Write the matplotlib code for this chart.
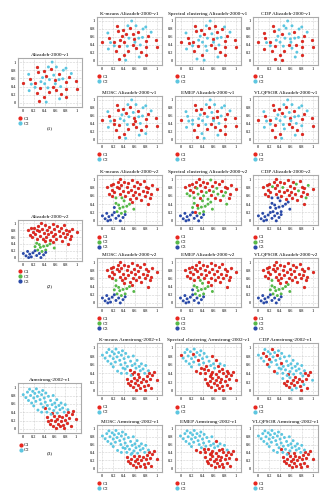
import matplotlib
matplotlib.use("Agg")
import matplotlib.pyplot as plt
from matplotlib.lines import Line2D

plt.rcParams['font.family'] = ['Liberation Serif', 'DejaVu Serif']

# ---- dataset 1: Alizadeh-2000-v1 (1 = C1 red, 2 = C2 cyan)
ds1_x = [0.00, 0.10, 0.11, 0.15, 0.22, 0.25, 0.26, 0.28, 0.31, 0.22, 0.36, 0.38, 0.39, 0.43, 0.40, 0.43,
         0.46, 0.48, 0.49, 0.51, 0.54, 0.56, 0.57, 0.59, 0.60, 0.62, 0.62, 0.66, 0.67, 0.70, 0.71, 0.74,
         0.75, 0.80, 0.80, 0.80, 0.80, 0.85, 0.99, 1.00, 0.33, 0.13, 0.90, 0.68, 0.47, 0.30]
ds1_y = [0.48, 0.70, 0.30, 0.46, 0.48, 0.24, 0.88, 0.75, 0.37, 0.38, 0.62, 0.78, 0.14, 0.67, 0.47, 0.02,
         0.37, 0.26, 0.57, 0.82, 1.00, 0.39, 0.68, 0.55, 0.47, 0.32, 0.88, 0.72, 0.57, 0.40, 0.22, 0.59,
         0.80, 0.85, 0.51, 0.34, 0.14, 0.63, 0.53, 0.34, 0.52, 0.58, 0.72, 0.10, 0.88, 0.05]
ds1_lab = [1, 2, 2, 2, 1, 1, 1, 1, 1, 2, 2, 1, 1, 1, 2, 2,
           2, 1, 2, 1, 2, 1, 2, 1, 2, 1, 2, 1, 2, 2, 1, 2,
           2, 2, 1, 1, 1, 1, 1, 1, 2, 1, 2, 2, 2, 1]
# indices whose cluster differs from the reference labelling
ds1_flip = {
    "K-means": [10, 14, 22, 40],
    "Spectral clustering": [3, 17, 26, 32, 45],
    "CDP": [1, 2, 11, 15, 19, 23, 25, 29, 30],
    "MOSC": [9, 24, 36],
    "EMEP": [4, 12, 28, 41],
    "VLQPSOR": [17, 35],
}

# ---- dataset 2: Alizadeh-2000-v2 (1 red, 2 green, 3 blue)
ds2_x = [0.08, 0.15, 0.18, 0.20, 0.12, 0.17, 0.22, 0.26, 0.28, 0.30, 0.33, 0.32, 0.35, 0.38, 0.40, 0.42,
         0.45, 0.47, 0.48, 0.50, 0.52, 0.55, 0.56, 0.58, 0.60, 0.62, 0.63, 0.66, 0.68, 0.70, 0.72, 0.74,
         0.76, 0.78, 0.80, 0.82, 0.85, 0.88, 0.84, 0.90, 0.92, 1.00, 0.40, 0.25, 0.55, 0.36,
         0.25, 0.30, 0.32, 0.27, 0.38, 0.42, 0.45, 0.35, 0.58, 0.50, 0.22,
         0.00, 0.05, 0.08, 0.12, 0.15, 0.18, 0.22, 0.25, 0.30, 0.33, 0.38, 0.42, 0.10]
ds2_y = [0.80, 0.86, 0.75, 0.88, 0.65, 0.60, 0.70, 0.82, 0.92, 0.78, 1.00, 0.64, 0.85, 0.72, 0.94, 0.60,
         0.80, 0.68, 0.90, 0.52, 0.75, 0.98, 0.62, 0.84, 0.70, 0.55, 0.92, 0.78, 0.64, 0.88, 0.50, 0.72,
         0.96, 0.60, 0.82, 0.68, 0.78, 0.55, 0.40, 0.64, 0.85, 0.76, 0.48, 0.55, 0.45, 0.55,
         0.42, 0.38, 0.30, 0.22, 0.33, 0.22, 0.35, 0.18, 0.28, 0.40, 0.32,
         0.12, 0.05, 0.18, 0.10, 0.02, 0.14, 0.20, 0.06, 0.12, 0.00, 0.08, 0.15, 0.00]
ds2_lab = [1] * 46 + [2] * 11 + [3] * 13
ds2_set = {
    "K-means": {2: [42, 43, 45], 3: [56]},
    "Spectral clustering": {2: [4, 5, 9, 11, 15, 17, 19, 21, 24, 27, 28, 33, 35, 38, 42, 43, 44], 1: [47, 49]},
    "CDP": {3: [42, 43, 44, 45, 46, 47, 48, 49, 50, 51, 52, 53, 54, 55, 56], 2: [7, 16, 29, 31, 37, 40]},
    "MOSC": {2: [43]},
    "EMEP": {2: [42, 45], 3: [56]},
    "VLQPSOR": {2: [43, 44]},
}

# ---- dataset 3: Armstrong-2002-v1 (1 red, 2 cyan)
ds3_x = [0.00, 0.05, 0.08, 0.10, 0.12, 0.14, 0.16, 0.18, 0.20, 0.22, 0.24, 0.25, 0.27, 0.28, 0.30, 0.32,
         0.34, 0.35, 0.37, 0.38, 0.40, 0.42, 0.43, 0.45, 0.46, 0.48, 0.50, 0.52, 0.53, 0.55, 0.57, 0.58,
         0.60, 0.62, 0.64, 0.65, 0.68, 0.70, 0.72, 0.75, 0.78, 0.80, 0.85, 0.35, 0.20,
         0.42, 0.45, 0.48, 0.50, 0.53, 0.56, 0.58, 0.60, 0.62, 0.64, 0.66, 0.68, 0.70, 0.72, 0.74, 0.76,
         0.78, 0.80, 0.82, 0.84, 0.86, 0.88, 0.90, 0.95, 1.00, 0.92, 0.55]
ds3_y = [0.82, 0.75, 0.88, 0.68, 0.95, 0.80, 0.62, 0.90, 0.74, 0.85, 0.66, 0.96, 0.78, 0.45, 0.88, 0.70,
         0.60, 0.82, 0.92, 0.52, 0.74, 0.64, 0.86, 0.40, 0.56, 0.78, 0.48, 0.68, 0.35, 0.58, 0.80, 0.44,
         0.62, 0.52, 0.70, 0.38, 0.56, 0.46, 0.62, 0.50, 0.40, 0.58, 0.46, 0.40, 0.55,
         0.50, 0.28, 0.18, 0.12, 0.22, 0.08, 0.30, 0.18, 0.02, 0.24, 0.12, 0.32, 0.06, 0.20, 0.28, 0.10,
         0.02, 0.22, 0.34, 0.14, 0.40, 0.26, 0.06, 0.44, 0.24, 0.36, 0.38]
ds3_lab = [2] * 45 + [1] * 27
ds3_set = {
    "K-means": {1: [26, 31, 35], 2: [45]},
    "Spectral clustering": {1: [0, 9, 13, 15, 19, 23, 24, 26, 28, 30, 31, 34, 35, 36, 37, 39, 40, 42, 43]},
    "CDP": {1: [2, 5, 6, 8, 11, 13, 17, 21], 2: [45, 46, 51, 53, 57, 63, 64, 69]},
    "MOSC": {2: [45, 71]},
    "EMEP": {1: [13, 23, 26, 28, 31, 34, 35, 37, 39, 40, 43]},
    "VLQPSOR": {1: [35]},
}

methods = ["K-means", "Spectral clustering", "CDP", "MOSC", "EMEP", "VLQPSOR"]
colors = {1: "#e8261e", 2: "#5cc6e0"}
colors3 = {1: "#e8261e", 2: "#56b848", 3: "#2a4aa8"}

W, H = 331, 500
fig = plt.figure(figsize=(W / 100, H / 100), dpi=100)


def box(x0, x1, y0, y1):
    return [x0 / W, 1 - y1 / H, (x1 - x0) / W, (y1 - y0) / H]


def panel(rect, xs, ys, lab, cmap, title, ncl):
    ax = fig.add_axes(rect)
    for k in range(1, ncl + 1):
        px = [xs[i] for i in range(len(xs)) if lab[i] == k]
        py = [ys[i] for i in range(len(ys)) if lab[i] == k]
        ax.scatter(px, py, s=4.5, c=cmap[k], edgecolors="#b01810" if k == 1 else "none",
                   linewidths=0.2, zorder=3)
    ax.set_xlim(-0.1, 1.1)
    ax.set_ylim(-0.1, 1.1)
    t = [0, 0.2, 0.4, 0.6, 0.8, 1]
    tl = ["0", "0.2", "0.4", "0.6", "0.8", "1"]
    ax.set_xticks(t)
    ax.set_xticklabels(tl)
    ax.set_yticks(t)
    ax.set_yticklabels(tl)
    ax.tick_params(labelsize=3.2, length=0, pad=1.5)
    ax.grid(True, linestyle=":", linewidth=0.4, color="#aaaaaa")
    for s in ax.spines.values():
        s.set_color("#aaaaaa")
        s.set_linewidth(0.8)
    ax.set_title(title, fontsize=3.8, pad=1.5)
    handles = [Line2D([], [], marker="o", linestyle="none", markersize=2, color=cmap[k])
               for k in range(1, ncl + 1)]
    ax.legend(handles, ["C%d" % k for k in range(1, ncl + 1)], loc="upper left",
              bbox_to_anchor=(-0.02, -0.15), frameon=False, fontsize=3.4,
              handlelength=0.6, handletextpad=0.4, labelspacing=0.15, borderpad=0)
    return ax


def relabel(lab, changes):
    out = list(lab)
    for i in changes:
        out[i] = 3 - out[i]
    return out


def relabel_set(lab, changes):
    out = list(lab)
    for k, idx in changes.items():
        for i in idx:
            out[i] = k
    return out


cols = [(97, 162), (175, 241), (253, 318)]

# section 1
rows1 = [(17, 65), (96, 143)]
panel(box(18, 82, 58, 107), ds1_x, ds1_y, ds1_lab, colors, "Alizadeh-2000-v1", 2)
fig.text(50 / W, 1 - 128 / H, "(1)", fontsize=3.8, ha="center", va="center")
for j, m in enumerate(methods):
    c = cols[j % 3]
    r = rows1[j // 3]
    panel(box(c[0], c[1], r[0], r[1]), ds1_x, ds1_y, relabel(ds1_lab, ds1_flip[m]), colors,
          m + " Alizadeh-2000-v1", 2)

# section 2
rows2 = [(175, 225), (258, 307)]
panel(box(18, 82, 220, 261), ds2_x, ds2_y, ds2_lab, colors3, "Alizadeh-2000-v2", 3)
fig.text(50 / W, 1 - 286 / H, "(2)", fontsize=3.8, ha="center", va="center")
for j, m in enumerate(methods):
    c = cols[j % 3]
    r = rows2[j // 3]
    panel(box(c[0], c[1], r[0], r[1]), ds2_x, ds2_y, relabel_set(ds2_lab, ds2_set[m]), colors3,
          m + " Alizadeh-2000-v2", 3)

# section 3
rows3 = [(343, 395), (425, 472)]
panel(box(18, 81, 383, 433), ds3_x, ds3_y, ds3_lab, colors, "Armstrong-2002-v1", 2)
fig.text(50 / W, 1 - 453 / H, "(3)", fontsize=3.8, ha="center", va="center")
for j, m in enumerate(methods):
    c = cols[j % 3]
    r = rows3[j // 3]
    panel(box(c[0], c[1], r[0], r[1]), ds3_x, ds3_y, relabel_set(ds3_lab, ds3_set[m]), colors,
          m + " Armstrong-2002-v1", 2)

fig.savefig("out.png", dpi=100, facecolor="white")
